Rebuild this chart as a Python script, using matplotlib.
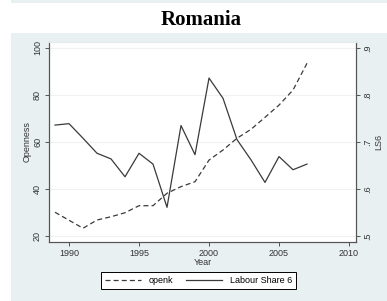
import matplotlib
matplotlib.use("Agg")
import matplotlib.pyplot as plt
from matplotlib.patches import Rectangle

years = list(range(1989, 2008))
openk = [30.1, 26.7, 23.3, 26.8, 28.2, 29.9, 32.9, 32.9, 38.2, 41.0,
         43.1, 52.3, 56.6, 61.6, 65.4, 70.5, 75.7, 82.1, 93.5]
ls6 = [0.736, 0.739, 0.708, 0.676, 0.664, 0.626, 0.676, 0.653, 0.561, 0.735,
       0.673, 0.836, 0.793, 0.705, 0.662, 0.614, 0.669, 0.641, 0.653]

left_ticks = [20, 40, 60, 80, 100]
right_ticks = [0.5, 0.6, 0.7, 0.8, 0.9]
right_labels = ['.5', '.6', '.7', '.8', '.9']
x_ticks = [1990, 1995, 2000, 2005, 2010]

W, H = 387, 301
bg = '#e9f0f2'
line_col = '#3a3a3a'
plt.rcParams['font.family'] = 'Liberation Sans'

fig = plt.figure(figsize=(W / 100, H / 100), dpi=100)
fig.patch.set_facecolor('white')
fig.patches.append(Rectangle((11 / W, 1 - 3 / H), 1, 3 / H, transform=fig.transFigure,
                             facecolor=bg, edgecolor='none', zorder=-10))
fig.patches.append(Rectangle((11 / W, 0), 1, 1 - 33 / H, transform=fig.transFigure,
                             facecolor=bg, edgecolor='none', zorder=-10))

ax = fig.add_axes([49 / W, 1 - 242 / H, (356 - 49) / W, 200 / H])
ax.set_facecolor('white')
ylo, yhi = 17.45, 102.55
ax.set_xlim(1988.57, 2010.5)
ax.set_ylim(ylo, yhi)

for t in left_ticks:
    ax.axhline(t, color='#eef2f3', lw=0.8, zorder=0)

l1, = ax.plot(years, openk, color=line_col, lw=0.9, dashes=(4, 2.5), label='openk')

ax2 = ax.twinx()
ax2.set_ylim((ylo - 20) / 200 + 0.5, (yhi - 20) / 200 + 0.5)
l2, = ax2.plot(years, ls6, color=line_col, lw=0.9, label='Labour Share 6')

for a in (ax, ax2):
    for s in a.spines.values():
        s.set_color('#555555')
        s.set_linewidth(0.8)
    a.spines['top'].set_color('#e6ecee')
    a.tick_params(length=3, width=0.7, color='#555555', labelsize=6.5,
                  labelcolor='#333333', pad=2)

ax.set_xticks(x_ticks)
ax.set_yticks(left_ticks)
ax.set_yticklabels([str(t) for t in left_ticks], rotation=90, va='center')
ax2.set_yticks(right_ticks)
ax2.set_yticklabels(right_labels, rotation=90, va='center')

ax.set_xlabel('Year', fontsize=6.5, color='#333333', labelpad=0)
ax.set_ylabel('Openness', fontsize=6.5, color='#333333', labelpad=1)
ax2.set_ylabel('LS6', fontsize=6.5, color='#333333', labelpad=2)

fig.text(201 / W, 1 - 20 / H, 'Romania', ha='center', va='center',
         fontsize=15, fontweight='bold', family='Liberation Serif')

leg = fig.legend([l1, l2], ['openk', 'Labour Share 6'], loc='center',
                 bbox_to_anchor=(198.5 / W, 1 - 280.5 / H), ncol=2, fontsize=6.5,
                 fancybox=False, edgecolor='black', framealpha=1,
                 handlelength=4.0, columnspacing=1.4, borderpad=0.45,
                 handletextpad=0.9)
leg.get_frame().set_linewidth(0.7)

fig.savefig('out.png', dpi=100)
